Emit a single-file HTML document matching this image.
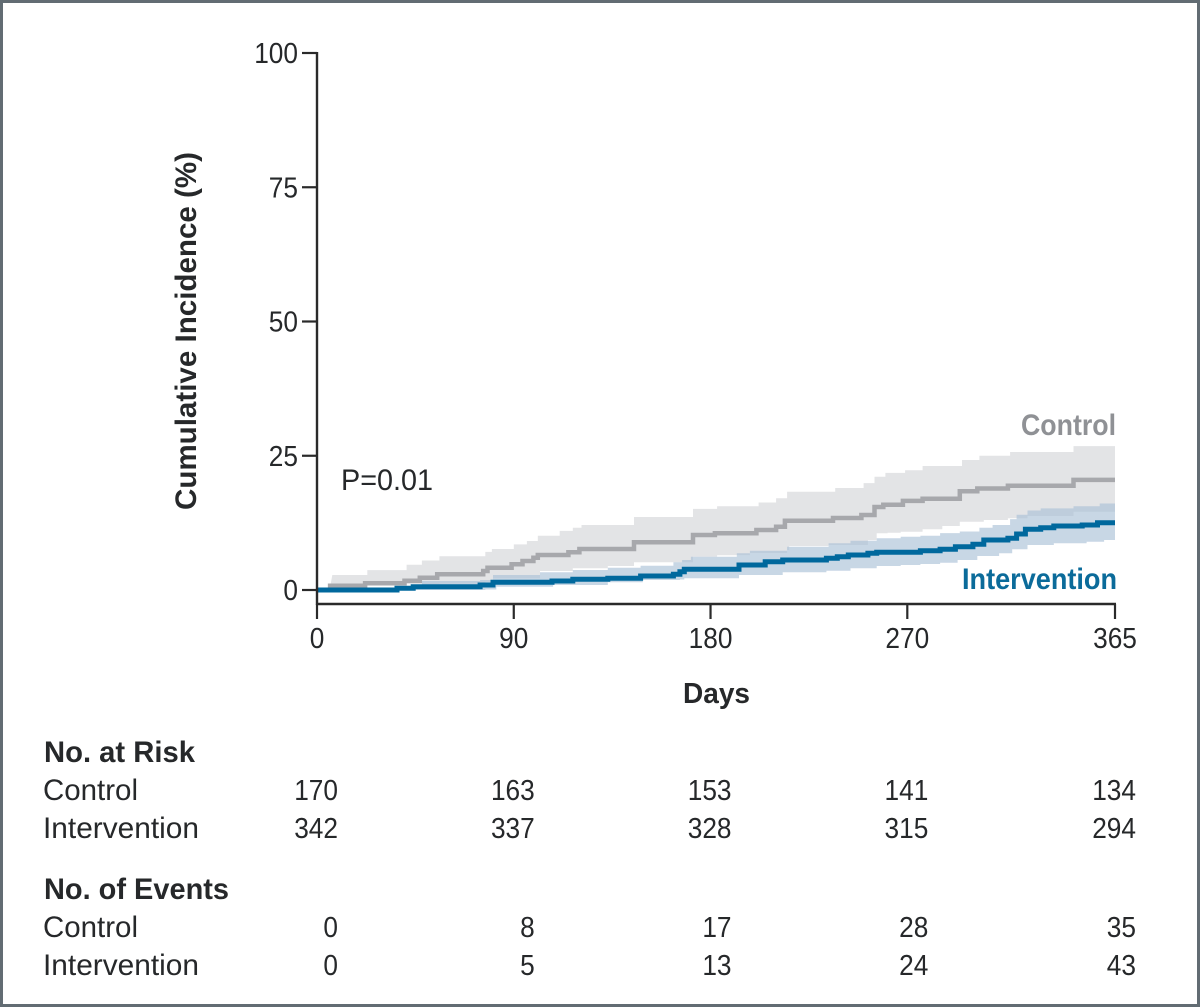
<!DOCTYPE html>
<html>
<head>
<meta charset="utf-8">
<style>
html,body{margin:0;padding:0;background:#fff;}
svg{display:block;}
text{font-family:"Liberation Sans",sans-serif;fill:#26282a;}
</style>
</head>
<body>
<svg id="chart" xmlns="http://www.w3.org/2000/svg" width="1200" height="1007" viewBox="0 0 1200 1007">
<rect x="1.5" y="1.5" width="1197" height="1004" fill="#fff" stroke="#626c73" stroke-width="3"/>
<g id="bands"></g>
<g id="lines"></g>
<g id="axes"></g>
<text transform="translate(196,510) rotate(-90)" font-size="29.5" font-weight="700" textLength="358" lengthAdjust="spacingAndGlyphs">Cumulative Incidence (%)</text>
<text x="683" y="703" font-size="29" font-weight="700" textLength="67" lengthAdjust="spacingAndGlyphs">Days</text>
<text x="341" y="490" font-size="30" textLength="92" lengthAdjust="spacingAndGlyphs">P=0.01</text>
<text x="1021" y="435" font-size="30" font-weight="700" textLength="95" lengthAdjust="spacingAndGlyphs" style="fill:#8f9195">Control</text>
<text x="962" y="589" font-size="29.5" font-weight="700" textLength="155" lengthAdjust="spacingAndGlyphs" style="fill:#0b6b9a">Intervention</text>
<text x="44" y="762" font-size="29.5" font-weight="700" textLength="151" lengthAdjust="spacingAndGlyphs">No. at Risk</text>
<text x="43" y="800" font-size="30" textLength="95" lengthAdjust="spacingAndGlyphs">Control</text>
<text x="43" y="838" font-size="30" textLength="156" lengthAdjust="spacingAndGlyphs">Intervention</text>
<text x="44" y="899" font-size="29.5" font-weight="700" textLength="185" lengthAdjust="spacingAndGlyphs">No. of Events</text>
<text x="43" y="937" font-size="30" textLength="95" lengthAdjust="spacingAndGlyphs">Control</text>
<text x="43" y="975" font-size="30" textLength="156" lengthAdjust="spacingAndGlyphs">Intervention</text>
<g id="table"></g>
</svg>
<script>
// Axis tick values
const xTicks = [0, 90, 180, 270, 365];
const yTicks = [0, 25, 50, 75, 100];

// Control series: step days and cumulative incidence (%)
const controlDays = [0, 6, 22, 40, 47, 55, 76, 78, 89, 94, 99, 101, 115, 120, 145, 172, 182, 201, 210, 214, 236, 249, 255, 259, 268, 277, 294, 302, 316, 346];
const controlValues = [0, 0.8, 1.25, 1.73, 2.29, 2.92, 3.54, 4.15, 4.79, 5.4, 6.01, 6.52, 7.02, 7.64, 8.88, 10.24, 10.56, 11.17, 11.79, 12.9, 13.4, 13.97, 15.46, 15.88, 16.6, 17.0, 18.4, 18.9, 19.4, 20.5];
const controlUpperDays = [7, 23, 41, 48, 56, 77, 80, 90, 96, 101, 111, 117, 121, 145, 172, 183, 202, 210, 215, 237, 250, 255, 260, 269, 277, 295, 303, 317, 346];
const controlUpperValues = [2.8, 3.7, 4.7, 5.5, 6.3, 7.1, 7.64, 8.5, 9.12, 10.1, 11.0, 11.6, 12.1, 13.6, 15.1, 15.6, 16.3, 17.1, 18.3, 19.0, 19.9, 21.1, 21.8, 22.3, 23.1, 24.2, 25.0, 25.7, 26.8];
const controlLowerDays = [6, 22, 40, 56, 77, 80.5, 102, 117, 133, 145, 172, 183, 192, 198, 215, 216, 234, 252, 256, 261, 267, 277, 286, 294, 305, 316, 325, 346];
const controlLowerValues = [0.5, 0.9, 1.1, 1.2, 1.5, 2.18, 3.54, 4.04, 4.47, 5.16, 6.2, 6.46, 6.5, 6.89, 7.45, 8.2, 8.38, 9.3, 10.56, 10.67, 10.86, 11.3, 11.92, 12.72, 13.04, 13.35, 13.78, 14.58];

// Intervention series: step days and cumulative incidence (%)
const interventionDays = [0, 36.6, 44, 74.6, 80.5, 107.5, 117, 133, 148, 163, 166, 168, 193, 205, 213, 233, 238, 243, 252, 256, 276, 285, 292, 300, 305, 316, 320, 324, 331, 337, 350, 357];
const interventionValues = [0, 0.32, 0.61, 0.93, 1.43, 1.68, 1.99, 2.18, 2.61, 2.92, 3.41, 3.85, 4.66, 5.27, 5.59, 5.9, 6.2, 6.52, 6.83, 7.02, 7.32, 7.58, 8.06, 8.51, 9.31, 9.63, 10.43, 11.3, 11.6, 11.92, 12.1, 12.53];
const interventionUpperDays = [0, 44, 48, 74.6, 80.5, 102, 117, 133, 148, 163, 167, 171, 192, 198, 215, 234, 244, 256, 267, 276, 285, 294, 303, 309, 317, 320, 325, 331, 346, 358];
const interventionUpperValues = [0, 0.74, 1.68, 1.86, 2.79, 3.3, 3.72, 4.15, 4.53, 5.16, 5.59, 6.2, 6.83, 7.32, 8.06, 8.7, 9.18, 9.63, 9.93, 10.1, 10.6, 10.9, 11.6, 12.1, 13.2, 14.0, 14.8, 15.2, 15.6, 16.1];
const interventionLowerDays = [0, 77, 82, 108, 133, 149, 166, 168, 193, 213, 233, 244, 256, 267, 276, 285, 293, 302, 312, 318, 325, 337, 352, 360];
const interventionLowerValues = [0, 0.1, 0.61, 0.93, 1.43, 1.86, 1.95, 2.18, 2.79, 3.3, 3.59, 4.04, 4.47, 4.66, 4.84, 5.08, 5.59, 6.33, 6.83, 7.58, 8.38, 8.7, 8.99, 9.31];

// Table values
const riskControl = [170, 163, 153, 141, 134];
const riskIntervention = [342, 337, 328, 315, 294];
const eventsControl = [0, 8, 17, 28, 35];
const eventsIntervention = [0, 5, 13, 24, 43];

const NS = 'http://www.w3.org/2000/svg';
const X0 = 317, X1 = 1115, Y0 = 590, Y100 = 53, BASE = 604, MAXDAY = 365;
function xAxis(d) { return X0 + (X1 - X0) * d / MAXDAY; }
function yAxis(v) { return Y0 + (Y100 - Y0) * v / 100; }

function stepPoints(days, values) {
  const pts = [];
  for (let i = 0; i < days.length; i++) {
    if (i > 0) pts.push([xAxis(days[i]), yAxis(values[i - 1])]);
    pts.push([xAxis(days[i]), yAxis(values[i])]);
  }
  pts.push([xAxis(MAXDAY), yAxis(values[values.length - 1])]);
  return pts;
}
function toStr(pts) {
  return pts.map(function (p) { return p[0].toFixed(1) + ',' + p[1].toFixed(1); }).join(' ');
}
function make(tag, parent, attrs) {
  const el = document.createElementNS(NS, tag);
  Object.keys(attrs).forEach(function (k) { el.setAttribute(k, attrs[k]); });
  parent.appendChild(el);
  return el;
}
function numWidth(v) {
  return String(v).length * 14.6;
}

const bands = document.getElementById('bands');
const lines = document.getElementById('lines');
const axes = document.getElementById('axes');
const table = document.getElementById('table');

const controlBand = make('polygon', bands, {
  points: toStr(stepPoints(controlUpperDays, controlUpperValues).concat(stepPoints(controlLowerDays, controlLowerValues).reverse())),
  fill: '#e3e4e6'
});



const interventionBand = make('polygon', bands, {
  points: toStr(stepPoints(interventionUpperDays, interventionUpperValues).concat(stepPoints(interventionLowerDays, interventionLowerValues).reverse())),
  fill: 'rgb(169,192,214)',
  'fill-opacity': '0.64'
});



const controlLine = make('polyline', lines, {
  points: toStr(stepPoints(controlDays, controlValues)),
  fill: 'none', stroke: '#a7a8ac', 'stroke-width': '4.5'
});



const interventionLine = make('polyline', lines, {
  points: toStr(stepPoints(interventionDays, interventionValues)),
  fill: 'none', stroke: '#00689d', 'stroke-width': '5'
});



const yLine = make('line', axes, { x1: X0, x2: X0, y1: Y100 - 1, y2: BASE + 1, stroke: '#2a2a2a', 'stroke-width': '2.4' });



const xLine = make('line', axes, { x1: X0, x2: X1 + 1, y1: BASE, y2: BASE, stroke: '#2a2a2a', 'stroke-width': '2.4' });



yTicks.forEach(function (t) {
  const tick = make('line', axes, { x1: 302, x2: X0, y1: yAxis(t), y2: yAxis(t), stroke: '#2a2a2a', 'stroke-width': '2.2' });
  
  
  const label = make('text', axes, { x: 298, y: yAxis(t) + 10, 'font-size': '29', 'text-anchor': 'end', textLength: numWidth(t), lengthAdjust: 'spacingAndGlyphs' });
  label.textContent = t;
  
  
});

xTicks.forEach(function (t) {
  const tick = make('line', axes, { x1: xAxis(t), x2: xAxis(t), y1: BASE, y2: 619, stroke: '#2a2a2a', 'stroke-width': '2.2' });
  
  
  const label = make('text', axes, { x: xAxis(t), y: 648, 'font-size': '29', 'text-anchor': 'middle', textLength: numWidth(t), lengthAdjust: 'spacingAndGlyphs' });
  label.textContent = t;
  
  
});

const colRight = xTicks.map(function (t) { return xAxis(t) + 21; });
function addRow(values, y, name) {
  values.forEach(function (v, i) {
    const cell = make('text', table, { x: colRight[i], y: y, 'font-size': '28.5', 'text-anchor': 'end', textLength: numWidth(v), lengthAdjust: 'spacingAndGlyphs' });
    cell.textContent = v;
    
    
  });
}
addRow(riskControl, 800, 'at-risk-control-value');
addRow(riskIntervention, 838, 'at-risk-intervention-value');
addRow(eventsControl, 937, 'events-control-value');
addRow(eventsIntervention, 975, 'events-intervention-value');
</script>
</body>
</html>
